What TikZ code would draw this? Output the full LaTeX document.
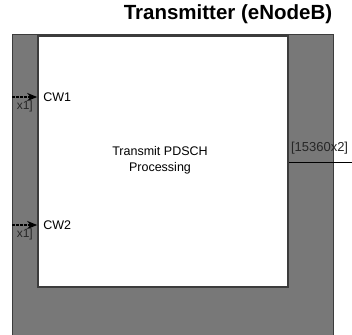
\documentclass[tikz,border=0pt]{standalone}
\usepackage{fontspec}
\setmainfont{Liberation Sans}
\usepackage{xcolor}
\usetikzlibrary{positioning,arrows.meta}
\definecolor{subgray}{RGB}{120,120,120}
\definecolor{edgegray}{RGB}{60,60,60}
\tikzset{
  subsys/.style={draw=edgegray, fill=subgray, line width=1pt},
  blockbox/.style={draw=edgegray, fill=white, line width=1.6pt, inner sep=0pt,
                   minimum width=250pt, minimum height=251pt},
  titlelbl/.style={font=\bfseries\fontsize{20.5}{24}\selectfont},
  portlbl/.style={font=\fontsize{12.5}{14}\selectfont, anchor=west, inner sep=0pt},
  sizelbl/.style={font=\fontsize{12}{14}\selectfont, text=black!85, inner sep=0pt},
  sigarrow/.style={-{Stealth[length=10pt,width=8pt]}, line width=1.8pt,
                   dash pattern=on 3pt off 1pt},
  outline/.style={line width=0.8pt},
}
\begin{document}
\begin{tikzpicture}[x=1pt,y=-1pt]
  \useasboundingbox (0,0) rectangle (352,334);
  \fill[white] (0,0) rectangle (352,334);
  \node[titlelbl] (title) at (228,14) {Transmitter (eNodeB)};
  \begin{scope}
    \clip (12,0) rectangle (352,334);
    \draw[subsys] (12,35) rectangle (333,340);
    \node[blockbox] (blk) at (163,161.5) {};
    \node[align=center, font=\fontsize{12.5}{16}\selectfont] (body) at (160,160)
      {Transmit PDSCH\\Processing};
    % ports on the block
    \coordinate (cw1) at (blk.west |- 0,97);
    \coordinate (cw2) at (blk.west |- 0,225);
    \coordinate (txo) at (blk.east |- 0,162);
    \coordinate (in1) at (0,97);
    \coordinate (in2) at (0,225);
    \coordinate (out) at (360,162);
    \node[portlbl, right=6pt of cw1] (cw1lbl) {CW1};
    \node[portlbl, right=6pt of cw2] (cw2lbl) {CW2};
    \draw[sigarrow] (in1) -- (cw1);
    \draw[sigarrow] (in2) -- (cw2);
    \node[sizelbl, anchor=north east] (sz1) at (33,101) {x1]};
    \node[sizelbl, anchor=north east] (sz2) at (33,229) {x1]};
    \draw[outline] (txo) -- (out);
    \node[sizelbl, anchor=south west, font=\fontsize{13}{15}\selectfont] (sz3)
      at ([xshift=2pt,yshift=8pt]txo) {[15360x2]};
  \end{scope}
\end{tikzpicture}
\end{document}
